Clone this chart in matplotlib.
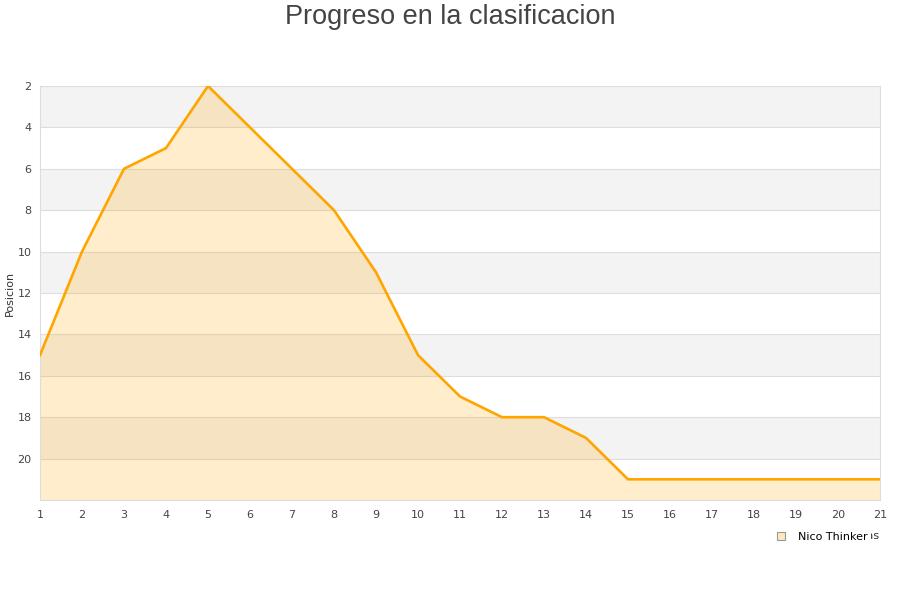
import matplotlib.pyplot as plt
from matplotlib.lines import Line2D

jornadas = list(range(1, 22))
posiciones = [15, 10, 6, 5, 2, 4, 6, 8, 11, 15, 17, 18, 18, 19, 21, 21, 21, 21, 21, 21, 21]
y_ticks = [2, 4, 6, 8, 10, 12, 14, 16, 18, 20]

fig = plt.figure(figsize=(9, 6), dpi=100)
ax = fig.add_axes([40 / 900, 1 - 500 / 600, 840 / 900, 414 / 600])

# alternating bands
for i, y0 in enumerate(range(2, 22, 2)):
	if i % 2 == 0:
		ax.axhspan(y0, y0 + 2, color="#f3f3f3", zorder=0, lw=0)
for y in y_ticks[1:]:
	ax.axhline(y, color="#dddddd", lw=0.8, zorder=1)

ax.fill_between(jornadas, posiciones, 22, color="#ffa500", alpha=0.2, lw=0, zorder=2)
ax.plot(jornadas, posiciones, color="#ffa500", lw=1.9, zorder=3)

ax.set_xlim(1, 21)
ax.set_ylim(22, 2)
ax.set_xticks(jornadas)
ax.set_yticks(y_ticks)
ax.tick_params(length=0, labelsize=8, colors="#444444")
ax.tick_params(axis="y", pad=6)
ax.tick_params(axis="x", pad=7)
for s in ax.spines.values():
	s.set_color("#dddddd")

ax.set_ylabel("Posicion", fontsize=8, color="#333333", labelpad=2)
ax.set_xlabel("Jornadas", fontsize=8, color="#333333", ha="right")
ax.xaxis.set_label_coords(1.0, -0.075)

fig.suptitle("Progreso en la clasificacion", y=0.993, fontsize=19.5, color="#444444", family="Liberation Sans")

handle = Line2D([], [], marker="s", linestyle="none", markersize=6,
	markerfacecolor="#ffe8c0", markeredgecolor="#999999", markeredgewidth=0.8)
leg = fig.legend([handle], ["Nico Thinker"], loc="center left", bbox_to_anchor=(761 / 900, 1 - 537 / 600),
	frameon=True, fontsize=8, handletextpad=0.5, borderpad=0.3)
leg.get_frame().set_edgecolor("none")
leg.get_frame().set_facecolor("white")
leg.get_frame().set_alpha(1)
leg.set_zorder(10)

fig.savefig("out.png", dpi=100)
